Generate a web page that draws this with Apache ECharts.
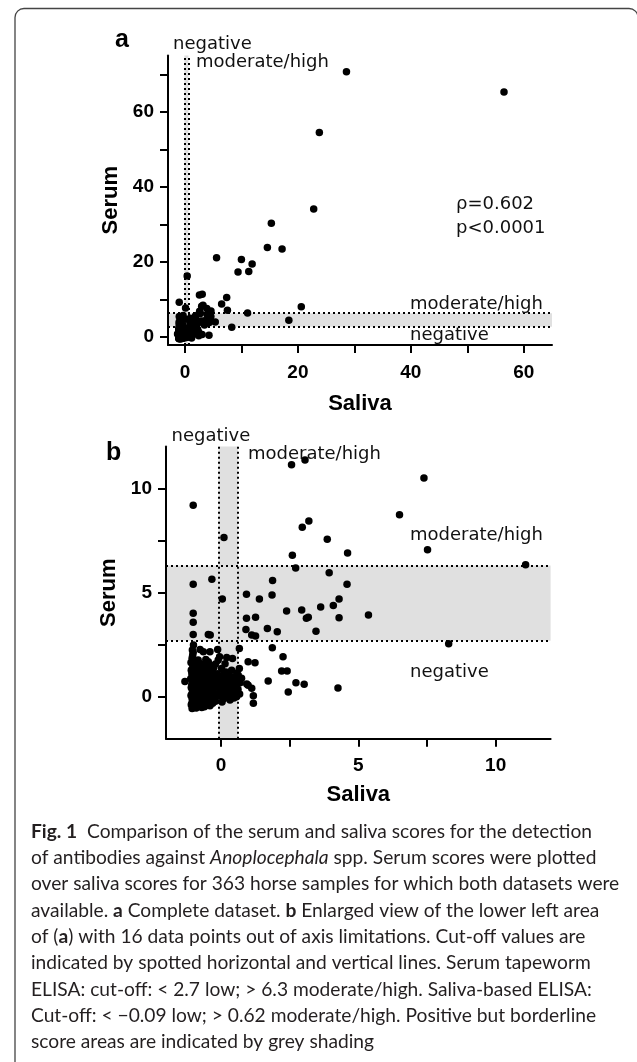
<!DOCTYPE html>
<html>
<head>
<meta charset="utf-8">
<script src="https://cdn.jsdelivr.net/npm/echarts@6/dist/echarts.min.js"></script>
<style>
  html, body { margin: 0; background: #fff; }
  #chart { width: 637px; height: 1062px; }
</style>
</head>
<body>
<div id="chart"></div>
<script>
// cut-offs (low / moderate-high)
const salivaCutoffs = [-0.09, 0.62];
const serumCutoffs = [2.7, 6.3];

// ticks + labels
const fullXTicks = [0, 10, 20, 30, 40, 50, 60];
const fullYTicks = [0, 10, 20, 30, 40, 50, 60, 70];
const fullLabels = [0, 20, 40, 60];
const zoomTicks = [0, 2.5, 5, 7.5, 10];
const zoomLabels = [0, 5, 10];

// [saliva, serum] per horse
const outliers = [
  [28.6, 70.7], [56.5, 65.3], [23.8, 54.5], [22.8, 34.1], [15.3, 30.3],
  [14.6, 23.8], [17.2, 23.4], [5.6, 21.1], [10.0, 20.6], [11.9, 19.4],
  [9.4, 17.3], [11.3, 17.4], [0.4, 16.2], [20.6, 8.0], [18.4, 4.4]
];

const spread = [
  [-1.01, 9.19], [0.11, 7.65], [2.57, 11.13], [3.06, 11.36], [7.39, 10.49],
  [6.5, 8.74], [2.96, 8.13], [3.2, 8.43], [3.87, 7.56], [7.52, 7.06],
  [11.09, 6.34], [2.6, 6.79], [4.61, 6.9], [2.72, 6.18], [3.94, 5.96],
  [-0.33, 5.64], [-1.01, 5.4], [1.88, 5.59], [4.59, 5.4], [0.05, 4.7],
  [0.93, 4.92], [1.4, 4.7], [1.86, 4.89], [4.3, 4.7], [4.09, 4.39],
  [3.63, 4.31], [2.39, 4.12], [2.94, 4.17], [-1.01, 4.02], [5.37, 3.93],
  [0.93, 3.77], [1.26, 3.82], [3.11, 3.77], [3.18, 3.82], [4.3, 3.8],
  [-1.01, 3.58], [-1.01, 3.0], [-0.46, 3.0], [-0.39, 2.97], [0.91, 3.24],
  [1.12, 2.97], [1.26, 2.92], [1.69, 3.29], [2.05, 3.13], [3.46, 3.15],
  [8.29, 2.55], [1.87, 2.36], [2.26, 1.93], [2.21, 1.25], [2.41, 1.25],
  [1.72, 0.77], [2.73, 0.69], [3.03, 0.61], [2.45, 0.24], [4.26, 0.43],
  [-1.31, 0.75], [0.99, 1.69], [1.24, 1.64], [0.94, 0.62], [1.12, 0.42],
  [1.18, 0.06], [1.18, -0.3], [0.04, -0.24], [0.67, 2.33], [0.99, 0.57]
];

const cluster = [
  [-1.05, -0.55], [-1.02, -0.42], [-1.06, -0.31], [-1.03, -0.2], [-1.05, -0.08],
  [-1.01, 0.03], [-1.06, 0.12], [-1.04, 0.22], [-1.02, 0.31], [-1.05, 0.4],
  [-1.03, 0.52], [-1.06, 0.61], [-1.01, 0.7], [-1.04, 0.81], [-1.05, 0.92],
  [-1.02, 1.01], [-1.06, 1.12], [-1.03, 1.24], [-1.05, 1.33], [-1.01, 1.45],
  [-1.04, 1.58], [-1.02, 1.72], [-1.05, 1.86], [-1.03, 2.0], [-1.01, 2.14],
  [-1.04, 2.26], [-1.0, 2.49], [-0.98, -0.48], [-0.97, -0.27], [-0.99, -0.05],
  [-0.96, 0.18], [-0.98, 0.36], [-0.95, 0.57], [-0.99, 0.78], [-0.96, 0.97],
  [-0.98, 1.18], [-0.95, 1.39], [-0.97, 1.62], [-1.08, -0.37], [-1.09, 0.08],
  [-1.08, 0.46], [-1.1, 0.88], [-1.08, 1.28], [-1.09, 1.66],
  [-0.9, -0.52], [-0.86, -0.3], [-0.91, -0.1], [-0.85, 0.1], [-0.89, 0.28],
  [-0.87, 0.5], [-0.92, 0.7], [-0.84, 0.9], [-0.88, 1.1], [-0.9, 1.3],
  [-0.86, 1.52], [-0.83, 1.77], [-0.76, 2.28], [-0.8, -0.4], [-0.77, -0.18],
  [-0.79, 0.02], [-0.75, 0.24], [-0.81, 0.41], [-0.78, 0.63], [-0.74, 0.82],
  [-0.8, 1.03], [-0.76, 1.22], [-0.79, 1.44], [-0.73, 1.6], [-0.7, -0.5],
  [-0.66, -0.28], [-0.69, -0.06], [-0.64, 0.14], [-0.68, 0.33], [-0.65, 0.55],
  [-0.71, 0.74], [-0.63, 0.95], [-0.67, 1.16], [-0.62, 1.36], [-0.69, 1.55],
  [-0.64, 2.17], [-0.6, -0.46], [-0.57, -0.2], [-0.59, 0.04], [-0.55, 0.27],
  [-0.58, 0.47], [-0.54, 0.68], [-0.6, 0.87], [-0.56, 1.07], [-0.53, 1.27],
  [-0.58, 1.47], [-0.55, 1.8], [-0.5, -0.36], [-0.46, -0.12], [-0.49, 0.1],
  [-0.45, 0.31], [-0.48, 0.52], [-0.43, 0.73], [-0.5, 0.94], [-0.44, 1.13],
  [-0.47, 1.35], [-0.46, 1.69], [-0.4, 2.17], [-0.4, -0.42], [-0.37, -0.02],
  [-0.39, 0.2], [-0.35, 0.42], [-0.38, 0.6], [-0.33, 0.84], [-0.36, 1.04],
  [-0.34, 1.22], [-0.38, 1.5], [-0.3, -0.3], [-0.27, 0.07], [-0.29, 0.35],
  [-0.25, 0.56], [-0.28, 0.77], [-0.24, 0.99], [-0.3, 1.18], [-0.26, 1.42],
  [-0.2, -0.2], [-0.17, 0.15], [-0.19, 0.47], [-0.15, 0.7], [-0.18, 0.92],
  [-0.14, 1.12], [-0.2, 1.58], [-0.12, 2.28], [-0.1, 1.77],
  [-0.06, 0.05], [-0.02, 0.33], [0.03, 0.58], [-0.04, 0.82], [0.06, 1.05],
  [0.02, 1.37], [-0.05, 1.93], [0.1, -0.08], [0.14, 0.22], [0.12, 0.48],
  [0.16, 0.74], [0.11, 0.97], [0.18, 1.2], [0.21, 1.9], [0.15, 1.6],
  [0.24, 0.08], [0.28, 0.36], [0.25, 0.62], [0.3, 0.88], [0.33, -0.14],
  [0.27, 1.12], [0.39, 1.29], [0.42, 1.85], [0.38, 0.16], [0.43, 0.44],
  [0.4, 0.7], [0.45, 0.96], [0.5, 0.28], [0.55, 0.55], [0.52, 0.82],
  [0.58, 1.15], [0.63, 1.05], [0.67, 1.37], [0.62, 0.38], [0.7, 0.68],
  [0.75, 0.9], [0.68, 0.15], [0.47, -0.05], [0.57, 0.02]
];

const samples = outliers.concat(spread, cluster);

const captionLines = [
  '{b|Fig. 1}  Comparison of the serum and saliva scores for the detection',
  'of antibodies against {i|Anoplocephala} spp. Serum scores were plotted',
  'over saliva scores for 363 horse samples for which both datasets were',
  'available. {b|a} Complete dataset. {b|b} Enlarged view of the lower left area',
  'of ({b|a}) with 16 data points out of axis limitations. Cut-off values are',
  'indicated by spotted horizontal and vertical lines. Serum tapeworm',
  'ELISA: cut-off: < 2.7 low; > 6.3 moderate/high. Saliva-based ELISA:',
  'Cut-off: < \u22120.09 low; > 0.62 moderate/high. Positive but borderline',
  'score areas are indicated by grey shading'
];

const black = '#000';
const axisFont = 'Liberation Sans, Arial, sans-serif';
const noteFont = 'DejaVu Sans, sans-serif';
const capFont = 'Lato, sans-serif';

function valueAxis(gridIndex, min, max, ticks, labels, name, margin, nameGap) {
  return {
    type: 'value',
    gridIndex: gridIndex,
    min: min,
    max: max,
    z: 4,
    name: name,
    nameLocation: 'middle',
    nameGap: nameGap,
    nameTextStyle: { fontFamily: axisFont, fontWeight: 'bold', fontSize: 22, color: black },
    axisLine: { show: true, onZero: false, lineStyle: { color: black, width: 2 } },
    axisTick: { show: true, customValues: ticks, length: 8, lineStyle: { color: black, width: 2 } },
    axisLabel: { customValues: labels, margin: margin, fontFamily: axisFont, fontWeight: 'bold', fontSize: 19, color: black },
    splitLine: { show: false }
  };
}

function scatterSeries(idx) {
  return {
    type: 'scatter',
    xAxisIndex: idx,
    yAxisIndex: idx,
    data: samples,
    symbolSize: 7.5,
    itemStyle: { color: black, opacity: 1 },
    z: 3,
    clip: true,
    markArea: {
      silent: true,
      z: 1,
      itemStyle: { color: '#e0e0e0' },
      data: [
        [{ yAxis: serumCutoffs[0] }, { yAxis: serumCutoffs[1] }],
        [{ xAxis: salivaCutoffs[0] }, { xAxis: salivaCutoffs[1] }]
      ]
    },
    markLine: {
      silent: true,
      z: 2,
      symbol: 'none',
      label: { show: false },
      lineStyle: { color: black, width: 2, type: [2, 3] },
      data: serumCutoffs.map(v => ({ yAxis: v })).concat(salivaCutoffs.map(v => ({ xAxis: v })))
    }
  };
}

function note(text, x, y) {
  return { type: 'text', x: x, y: y, z: 10,
    style: { text: text, fontFamily: noteFont, fontSize: 18, fill: '#111', verticalAlign: 'middle' } };
}

function panelLetter(text, x, y) {
  return { type: 'text', x: x, y: y, z: 10,
    style: { text: text, fontFamily: axisFont, fontWeight: 'bold', fontSize: 25, fill: black, verticalAlign: 'middle' } };
}

const chart = echarts.init(document.getElementById('chart'));

chart.setOption({
  animation: false,
  backgroundColor: '#fff',
  grid: [
    { left: 168, top: 55.5, width: 384, height: 289.5, outerBoundsMode: 'none' },
    { left: 166, top: 446.6, width: 384.6, height: 292.2, outerBoundsMode: 'none' }
  ],
  xAxis: [
    valueAxis(0, -3, 65, fullXTicks, fullLabels, 'Saliva', 18, 48),
    valueAxis(1, -2, 12, zoomTicks, zoomLabels, 'Saliva', 17, 45)
  ],
  yAxis: [
    valueAxis(0, -2.2, 75, fullYTicks, fullLabels, 'Serum', 14, 42),
    valueAxis(1, -2, 12, zoomTicks, zoomLabels, 'Serum', 14, 41)
  ],
  series: [scatterSeries(0), scatterSeries(1)],
  graphic: [
    { type: 'rect', z: 0, shape: { x: 15, y: 8.5, width: 623, height: 1100, r: 9 },
      style: { fill: 'none', stroke: '#444', lineWidth: 1.3 } },
    panelLetter('a', 115, 40),
    panelLetter('b', 106, 453),
    note('negative', 173, 44.5),
    note('moderate/high', 196, 62.5),
    note('\u03c1=0.602', 456, 204),
    note('p<0.0001', 456, 228),
    note('moderate/high', 410, 304),
    note('negative', 410, 335),
    note('negative', 171.5, 436),
    note('moderate/high', 248, 454),
    note('moderate/high', 410, 535.5),
    note('negative', 410, 672),
    { type: 'text', x: 31, y: 818.5, z: 10,
      style: {
        text: captionLines.join('\n'),
        fontFamily: capFont, fontSize: 19.2, lineHeight: 26.3, fill: '#231f20', verticalAlign: 'top',
        rich: {
          b: { fontFamily: capFont, fontSize: 19.2, lineHeight: 26.3, fontWeight: 'bold', fill: '#231f20' },
          i: { fontFamily: capFont, fontSize: 19.2, lineHeight: 26.3, fontStyle: 'italic', fill: '#231f20' }
        }
      } }
  ]
});
</script>
</body>
</html>
